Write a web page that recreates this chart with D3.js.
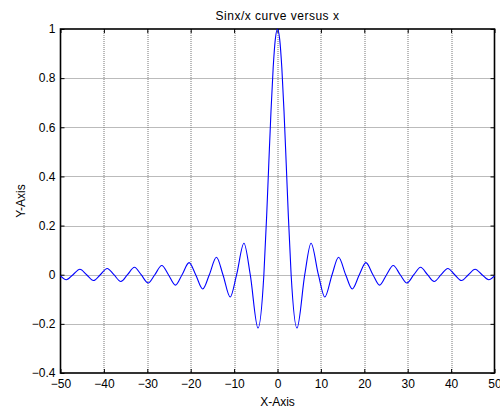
<!DOCTYPE html>
<html>
<head>
<meta charset="utf-8">
<script src="https://d3js.org/d3.v7.min.js"></script>
<style>
  body { margin: 0; background: #fff; }
  text { font-family: "Liberation Sans", Arial, sans-serif; }
</style>
</head>
<body>
<div id="chart"></div>
<script>
// values: zero crossings, extremes and a few points on the main lobe
var xVals = [-50, -48.67, -47.12, -45.53, -43.98, -42.39, -40.84, -39.24, -37.70, -36.10,
  -34.56, -32.96, -31.42, -29.81, -28.27, -26.67, -25.13, -23.52, -21.99, -20.37,
  -18.85, -17.22, -15.71, -14.07, -12.57, -10.90, -9.42, -7.73, -6.28, -4.49,
  -3.14, -2.5, -2, -1.5, -1, -0.5, 0,
  0.5, 1, 1.5, 2, 2.5, 3.14,
  4.49, 6.28, 7.73, 9.42, 10.90, 12.57, 14.07, 15.71, 17.22, 18.85,
  20.37, 21.99, 23.52, 25.13, 26.67, 28.27, 29.81, 31.42, 32.96, 34.56,
  36.10, 37.70, 39.24, 40.84, 42.39, 43.98, 45.53, 47.12, 48.67, 50];
var yVals = [-0.005, -0.0205, 0, 0.022, 0, -0.0236, 0, 0.0255, 0, -0.0277,
  0, 0.0303, 0, -0.0335, 0, 0.0375, 0, -0.0425, 0, 0.049,
  0, -0.058, 0, 0.071, 0, -0.091, 0, 0.128, 0, -0.217,
  0, 0.239, 0.455, 0.665, 0.841, 0.959, 1,
  0.959, 0.841, 0.665, 0.455, 0.239, 0,
  -0.217, 0, 0.128, 0, -0.091, 0, 0.071, 0, -0.058, 0,
  0.049, 0, -0.0425, 0, 0.0375, 0, -0.0335, 0, 0.0303, 0,
  -0.0277, 0, 0.0255, 0, -0.0236, 0, 0.022, 0, -0.0205, -0.005];
var xTicks = [-50, -40, -30, -20, -10, 0, 10, 20, 30, 40, 50];
var yTicks = [-0.4, -0.2, 0, 0.2, 0.4, 0.6, 0.8, 1];

var width = 500, height = 408;
var margin = {left: 60.5, right: 5.5, top: 29, bottom: 35};
var w = width - margin.left - margin.right,
    h = height - margin.top - margin.bottom;

var svg = d3.select("#chart")
  .append("svg")
  .attr("width", width)
  .attr("height", height);

var g = svg.append("g")
  .attr("transform", "translate(" + margin.left + "," + margin.top + ")");

var x = d3.scaleLinear().domain([-50, 50]).range([0, w]);
var y = d3.scaleLinear().domain([-0.4, 1]).range([h, 0]);

// grid
g.selectAll(".gx")
  .data(xTicks.slice(1, -1))
  .enter()
  .append("line")
  .attr("x1", d => Math.round(x(d)) + 0.5)
  .attr("x2", d => Math.round(x(d)) + 0.5)
  .attr("y1", 0)
  .attr("y2", h)
  .style("stroke", "#777")
  .style("stroke-dasharray", "1,1");

g.selectAll(".gy")
  .data(yTicks.slice(1, -1))
  .enter()
  .append("line")
  .attr("y1", d => Math.round(y(d)) + 0.5)
  .attr("y2", d => Math.round(y(d)) + 0.5)
  .attr("x1", 0)
  .attr("x2", w)
  .style("stroke", "#777")
  .style("stroke-dasharray", "1,1");

// axes with inward ticks on all four sides
g.append("g")
  .attr("transform", "translate(0," + h + ")")
  .call(d3.axisBottom(x).tickValues(xTicks).tickSizeInner(-4).tickSizeOuter(0).tickPadding(6));
g.append("g")
  .call(d3.axisTop(x).tickValues(xTicks).tickSizeInner(-4).tickSizeOuter(0).tickFormat(""));
g.append("g")
  .call(d3.axisLeft(y).tickValues(yTicks).tickSizeInner(-4).tickSizeOuter(0).tickPadding(5)
    .tickFormat(d => d3.format("")(+d.toFixed(1))));
g.append("g")
  .attr("transform", "translate(" + w + ",0)")
  .call(d3.axisRight(y).tickValues(yTicks).tickSizeInner(-4).tickSizeOuter(0).tickFormat(""));

g.selectAll(".tick line").style("stroke", "#000");
g.selectAll(".domain").remove();
g.selectAll(".tick text")
  .style("font-size", "12px")
  .style("fill", "#000")
  .style("font-family", "Liberation Sans, Arial, sans-serif");

// frame
g.append("rect")
  .attr("width", w)
  .attr("height", h)
  .style("fill", "none")
  .style("stroke", "#000")
  .style("stroke-width", 1.6);

// curve
var line = d3.line()
  .x((d, i) => x(xVals[i]))
  .y(d => y(d))
  .curve(d3.curveMonotoneX);

g.append("path")
  .datum(yVals)
  .attr("d", line)
  .style("fill", "none")
  .style("stroke", "#0000ff")
  .style("stroke-width", 1.1);

// labels
svg.append("text")
  .attr("x", margin.left + w / 2)
  .attr("y", 20)
  .attr("text-anchor", "middle")
  .style("font-size", "12px")
  .style("letter-spacing", "0.5px")
  .text("Sinx/x curve versus x");

svg.append("text")
  .attr("x", margin.left + w / 2)
  .attr("y", 406)
  .attr("text-anchor", "middle")
  .style("font-size", "12px")
  .text("X-Axis");

svg.append("text")
  .attr("transform", "translate(25," + (margin.top + h / 2) + ") rotate(-90)")
  .attr("text-anchor", "middle")
  .style("font-size", "12px")
  .text("Y-Axis");
</script>
</body>
</html>
